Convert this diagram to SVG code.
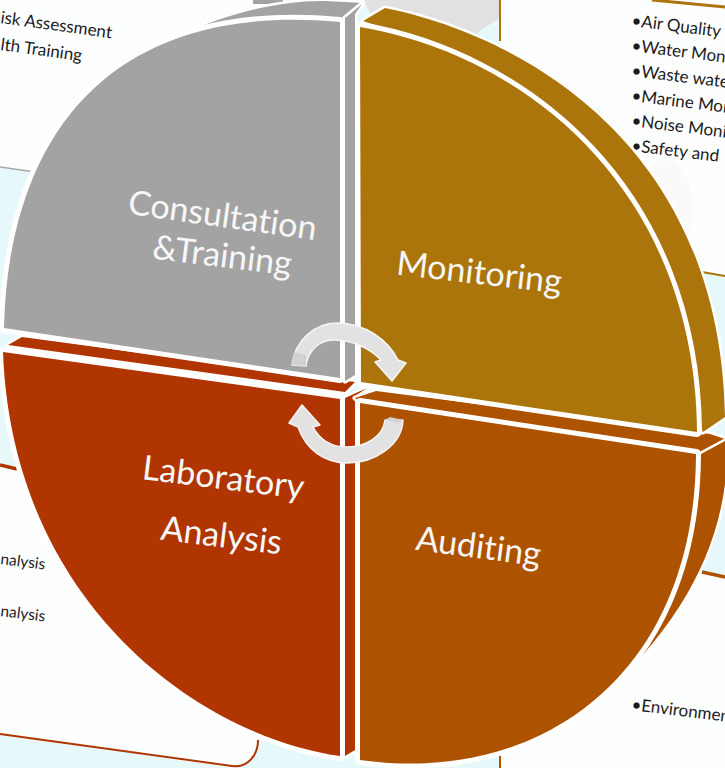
<svg xmlns="http://www.w3.org/2000/svg" width="725" height="768" viewBox="0 0 725 768">
<style>
.lbl{font-family:Lato,"Liberation Sans",sans-serif;font-size:34px;fill:#f7f7f7;text-anchor:middle;font-variant-ligatures:none}
.sm{font-family:Lato,"Liberation Sans",sans-serif;font-size:17px;fill:#1c1c1c;font-variant-ligatures:none}
.sm2{font-size:15.5px}
.face{stroke:#fff;stroke-width:10;stroke-linejoin:round;paint-order:stroke}
.band{stroke:#fff;stroke-width:5;stroke-linejoin:round;paint-order:stroke}
.arrow{fill:#e2e2e2;stroke:#f5f5f5;stroke-width:1.5;stroke-linejoin:round}
.end{fill:#d2d2d2;stroke:none}
</style>
<g id="background">
<rect width="725" height="768" fill="#e6f8f9"/>
<polygon points="0,0 365,0 340,40 200,60 35,172 0,167" fill="#fdfefe"/>
<polygon points="363,0 500,0 500,18 478,32 478,42 380,30" fill="#e1e1e1"/>
<rect x="253" y="0" width="30" height="4" fill="#a3a3a3"/>
<line x1="0" y1="167" x2="35" y2="172" stroke="#a8a8a8" stroke-width="1.5"/>
<path d="M501,0H725V276L690,270 600,110 501,60Z" fill="#fdfefe"/>
<line x1="500" y1="0" x2="500" y2="41" stroke="#ab750c" stroke-width="2"/>
<line x1="652" y1="0" x2="725" y2="7" stroke="#ab750c" stroke-width="3"/>
<line x1="702" y1="272" x2="725" y2="276" stroke="#ab750c" stroke-width="2"/>
<ellipse cx="665" cy="210" rx="28" ry="50" fill="#fafafa"/>
<path d="M700,573L725,578V768H501V700L650,600Z" fill="#fdfefe"/>
<line x1="702" y1="572" x2="725" y2="577" stroke="#ad5300" stroke-width="3.5"/>
<line x1="500" y1="753" x2="500" y2="768" stroke="#ad5300" stroke-width="2"/>
<path d="M0,467L17,470 60,500 200,660 258,700V740C258,755 250,768 232,768L0,733Z" fill="#fdfefe"/>
<line x1="0" y1="465" x2="17" y2="469" stroke="#b13500" stroke-width="3.5"/>
<path d="M0,734L232,766C248,768 258,755 258,740" fill="none" stroke="#b13500" stroke-width="2"/>
</g>
<g id="panel-text">
<text class="sm" transform="translate(0,23) rotate(7.8)">isk Assessment</text>
<text class="sm" transform="translate(0,50) rotate(7.8)">lth Training</text>
<text class="sm sm2" transform="translate(0,564) rotate(7)">nalysis</text>
<text class="sm sm2" transform="translate(0,616) rotate(7)">nalysis</text>
<text class="sm" transform="translate(631,26) rotate(7)">•Air Quality</text>
<text class="sm" transform="translate(631,51) rotate(7)">•Water Mon</text>
<text class="sm" transform="translate(631,76) rotate(7)">•Waste wate</text>
<text class="sm" transform="translate(631,101) rotate(7)">•Marine Mon</text>
<text class="sm" transform="translate(631,126) rotate(7)">•Noise Moni</text>
<text class="sm" transform="translate(631,151) rotate(7)">•Safety and</text>
<text class="sm" transform="translate(631,710) rotate(7)">•Environmen</text>
</g>
<g id="laboratory-analysis">
<polygon class="band" points="8,345 22,337 355,382 345,392" fill="#b13500"/>
<path class="band" d="M345,398L367,388 355,396V750L345,756Z" fill="#b13500"/>
<path class="face" d="M3,352L340,399V756C195,735 12,600 3,352Z" fill="#b13500"/>
<text class="lbl" transform="translate(222,489) rotate(7)">Laboratory</text>
<text class="lbl" transform="translate(220,547) rotate(7)">Analysis</text>
</g>
<g id="auditing">
<polygon class="band" points="376,391 710,434 725,439 725,441 702,454 361,403 355,398" fill="#ad5300"/>
<path class="band" d="M701,454L727,440C730,530 690,620 595,702L660,560Z" fill="#ad5300"/>
<path class="face" d="M360,403L696,454C695,680 535,785 360,760Z" fill="#ad5300"/>
<text class="lbl" transform="translate(477,558) rotate(7.5)">Auditing</text>
</g>
<g id="consultation-training">
<path class="band" d="M178,37C220,15 280,0 325,1L363,3 345,18 340,30 200,40Z" fill="#a3a3a3"/>
<polygon class="band" points="345,18 362,4 355,14 355,375 345,381" fill="#a3a3a3"/>
<path class="face" d="M4,328C8,142 104,0 340,22V378Z" fill="#a3a3a3"/>
<text class="lbl" transform="translate(221,227) rotate(8)">Consultation</text>
<text class="lbl" transform="translate(221,267) rotate(7)">&amp;Training</text>
</g>
<g id="monitoring">
<path class="band" d="M363,21L385,8C510,33 720,135 725,417L703,432 600,200 450,50Z" fill="#ab750c"/>
<path class="face" d="M360,27C526,55 695,190 697,432L361,382Z" fill="#ab750c"/>
<text class="lbl" transform="translate(478,284) rotate(6.5)">Monitoring</text>
</g>
<g id="connectors">
<path class="arrow" d="M292,365C295,340 315,323 337,323C365,323 388,340 398,360L406,363 392,381 375,362 381,360C370,348 352,340 333,340C320,340 308,350 306,366Z"/>
<path class="end" d="M292,365L294,352 306,355 306,366Z"/>
<path class="arrow" d="M403,420C402,445 375,463 347,463C325,463 306,450 298,427L289,423 302,405 320,425 313,427C320,440 332,447 347,447C365,447 383,437 385,420Z"/>
<path class="end" d="M385,420L390,417 403,420 398,423Z"/>
</g>
</svg>
